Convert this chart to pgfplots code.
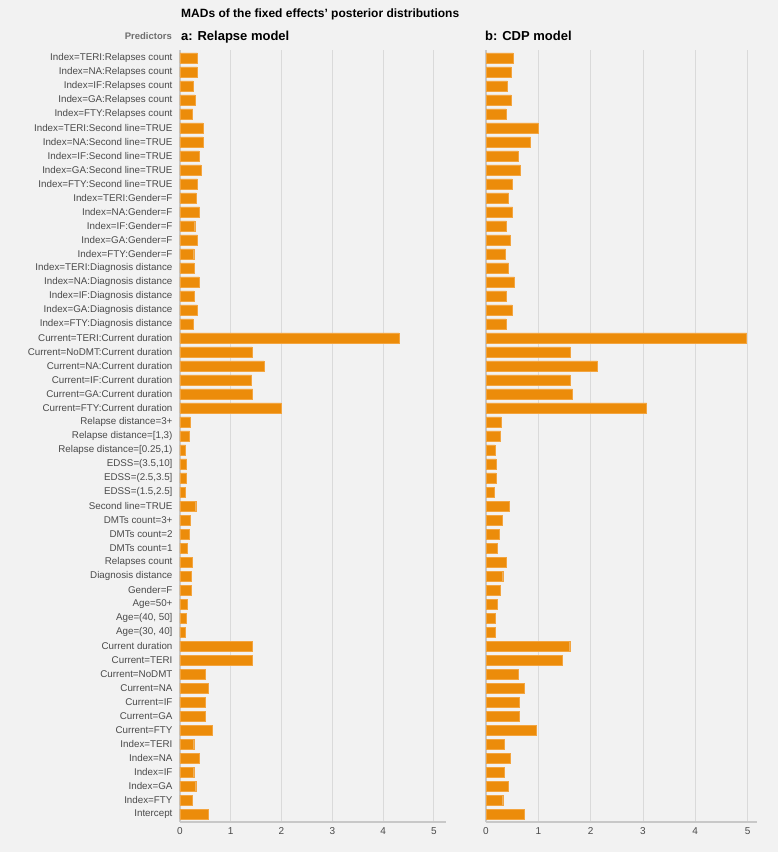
\documentclass[border=0pt]{standalone}
\usepackage{pgfplots}
\pgfplotsset{compat=1.18}
\usepackage{pgfplotstable}
\usepackage{fontspec}
\setmainfont{Liberation Sans}
\definecolor{bg}{HTML}{F2F2F2}
\definecolor{barc}{HTML}{EC8C0A}
\definecolor{bard}{HTML}{F3A540}
\definecolor{gridc}{HTML}{DADADA}
\definecolor{axc}{HTML}{C8C8C8}
\definecolor{lab}{HTML}{4A4A4A}

% y: 54 = top row, 0 = Intercept
\pgfplotstableread{
y a b
54 0.34 0.52
53 0.335 0.48
52 0.26 0.41
51 0.295 0.48
50 0.25 0.38
49 0.45 0.99
48 0.45 0.85
47 0.37 0.61
46 0.41 0.65
45 0.34 0.50
44 0.315 0.43
43 0.38 0.51
42 0.29 0.39
41 0.34 0.46
40 0.27 0.37
39 0.275 0.43
38 0.37 0.54
37 0.275 0.39
36 0.335 0.50
35 0.255 0.38
34 4.31 4.98
33 1.42 1.61
32 1.65 2.13
31 1.41 1.61
30 1.43 1.65
29 1.99 3.07
28 0.20 0.29
27 0.19 0.28
26 0.11 0.17
25 0.13 0.19
24 0.13 0.19
23 0.10 0.16
22 0.31 0.45
21 0.20 0.31
20 0.18 0.25
19 0.15 0.22
18 0.24 0.38
17 0.22 0.32
16 0.22 0.28
15 0.15 0.22
14 0.12 0.18
13 0.11 0.18
12 1.42 1.60
11 1.42 1.45
10 0.50 0.62
9 0.55 0.73
8 0.50 0.64
7 0.50 0.64
6 0.64 0.96
5 0.27 0.35
4 0.37 0.46
3 0.27 0.35
2 0.31 0.42
1 0.25 0.32
0 0.56 0.73
}\mad

\pgfplotsset{
  madpanel/.style={
    scale only axis, height=772pt,
    anchor=south west,
    xmin=0, ymin=-0.57, ymax=54.57,
    xbar, bar width=10pt,
    axis x line*=bottom, axis y line*=left,
    axis line style={draw=axc, line width=1.3pt, -},
    xtick={0,1,2,3,4,5},
    xmajorgrids, grid style={draw=gridc, line width=0.8pt},
    major tick length=0pt,
    ytick={0,...,54},
    tick style={draw=none},
    xticklabel style={font=\fontsize{10}{12}\selectfont, text=lab, yshift=-2pt},
    yticklabel style={font=\fontsize{9.8}{11}\selectfont, text=lab, xshift=-4pt},
    /pgf/number format/assume math mode=true,
  },
  madbar/.style={fill=barc, draw=bard, line width=0.4pt}
}

\begin{document}
\begin{tikzpicture}
\fill[bg] (0,0) rectangle (778pt,852pt);

\begin{axis}[madpanel, at={(180pt,30pt)}, width=266pt, xmax=5.24,
  yticklabels={{Intercept},{Index=FTY},{Index=GA},{Index=IF},{Index=NA},{Index=TERI},
  {Current=FTY},{Current=GA},{Current=IF},{Current=NA},{Current=NoDMT},{Current=TERI},
  {Current duration},{Age=(30, 40]},{Age=(40, 50]},{Age=50+},{Gender=F},{Diagnosis distance},
  {Relapses count},{DMTs count=1},{DMTs count=2},{DMTs count=3+},{Second line=TRUE},
  {EDSS=(1.5,2.5]},{EDSS=(2.5,3.5]},{EDSS=(3.5,10]},
  {Relapse distance=[0.25,1)},{Relapse distance=[1,3)},{Relapse distance=3+},
  {Current=FTY:Current duration},{Current=GA:Current duration},{Current=IF:Current duration},
  {Current=NA:Current duration},{Current=NoDMT:Current duration},{Current=TERI:Current duration},
  {Index=FTY:Diagnosis distance},{Index=GA:Diagnosis distance},{Index=IF:Diagnosis distance},
  {Index=NA:Diagnosis distance},{Index=TERI:Diagnosis distance},
  {Index=FTY:Gender=F},{Index=GA:Gender=F},{Index=IF:Gender=F},{Index=NA:Gender=F},{Index=TERI:Gender=F},
  {Index=FTY:Second line=TRUE},{Index=GA:Second line=TRUE},{Index=IF:Second line=TRUE},
  {Index=NA:Second line=TRUE},{Index=TERI:Second line=TRUE},
  {Index=FTY:Relapses count},{Index=GA:Relapses count},{Index=IF:Relapses count},
  {Index=NA:Relapses count},{Index=TERI:Relapses count}},
]
\addplot[madbar] table[x=a, y=y] {\mad};
\end{axis}

\begin{axis}[madpanel, at={(486pt,30pt)}, width=271pt, xmax=5.18, yticklabels={}]
\addplot[madbar] table[x=b, y=y] {\mad};
\end{axis}

\node[anchor=base west, inner sep=0pt, font=\bfseries\fontsize{12}{14}\selectfont]
  at (181pt,834pt) {MADs of the fixed effects’ posterior distributions};
\node[anchor=base west, inner sep=0pt, font=\bfseries\fontsize{13}{15}\selectfont]
  at (181pt,811pt) {a: Relapse model};
\node[anchor=base west, inner sep=0pt, font=\bfseries\fontsize{13}{15}\selectfont]
  at (485pt,811pt) {b: CDP model};
\node[anchor=base east, inner sep=0pt, text=lab!80!white, font=\bfseries\fontsize{9.5}{11}\selectfont]
  at (172pt,812pt) {Predictors};
\end{tikzpicture}
\end{document}
